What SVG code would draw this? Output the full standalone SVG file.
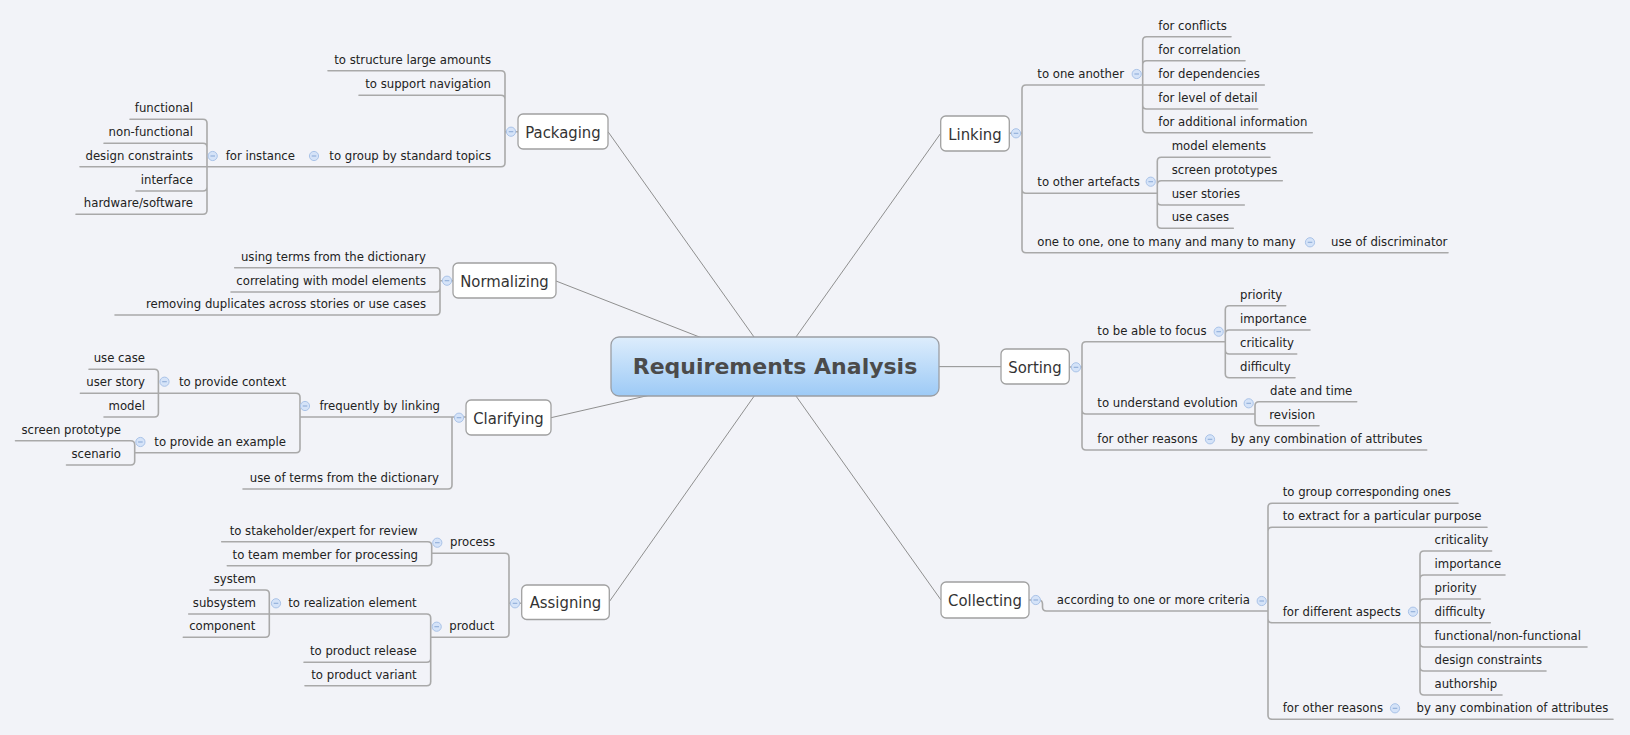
<svg xmlns="http://www.w3.org/2000/svg" xmlns:xlink="http://www.w3.org/1999/xlink" width="1630" height="735" viewBox="0 0 1630 735">
<style>
.c{stroke:#8f8f8f;stroke-width:1;fill:none}
.u{stroke:#a9a9a9;stroke-width:1.6;fill:none;stroke-linecap:round}
.t{font-family:"DejaVu Sans Condensed","Liberation Sans",sans-serif;font-size:13px;fill:#222}
.e{text-anchor:end}
.box{fill:#fff;stroke:#a0a0a0;stroke-width:1.3}
.m{font-family:"DejaVu Sans Condensed","Liberation Sans",sans-serif;font-size:16.5px;fill:#333;text-anchor:middle}
.r{font-family:"DejaVu Sans","Liberation Sans",sans-serif;font-weight:bold;font-size:22px;fill:#4b4b4b;text-anchor:middle}
</style>
<defs>
<linearGradient id="rg" x1="0" y1="0" x2="0" y2="1">
<stop offset="0" stop-color="#ddedfc"/>
<stop offset="1" stop-color="#9dcaf6"/>
</linearGradient>
<g id="ic"><circle cx="0" cy="0" r="4.6" fill="#d5e3f8" stroke="#aac3e8" stroke-width="1"/><line x1="-2.3" y1="0" x2="2.3" y2="0" stroke="#8fadd9" stroke-width="1.1"/></g>
</defs>
<rect width="1630" height="735" fill="#f2f3f8"/>

<g id="connectors">
<g id="central-links" class="c">
<path d="M775 366.5L608 131.7"/>
<path d="M775 366.5L556 281"/>
<path d="M775 366.5L551 417.7"/>
<path d="M775 366.5L609.3 601.7"/>
<path d="M775 366.5L940.7 133.3"/>
<path d="M775 366.5L1001 366.7"/>
<path d="M775 366.5L941 600"/>
</g>
<g id="branch-lines" class="u">
<path d="M518 131.7H505M505 131.7V74.7Q505 70.7 501 70.7H328M505 131.7V99.3Q505 95.3 501 95.3H359M505 131.7V162.7Q505 166.7 501 166.7H207M207 166.7V123.3Q207 119.3 203 119.3H130M207 166.7V147.3Q207 143.3 203 143.3H104M207 166.7H80M207 166.7V187Q207 191 203 191H136M207 166.7V210.3Q207 214.3 203 214.3H76"/>
<path d="M453 280.7H440M440 280.7V271.7Q440 267.7 436 267.7H234.7M440 280.7V288Q440 292 436 292H231M440 280.7V311Q440 315 436 315H115"/>
<path d="M466 417H452M452 417V485Q452 489 448 489H243M452 417H300M300 417V397.3Q300 393.3 296 393.3H158.4M300 417V448.7Q300 452.7 296 452.7H134.7M158.4 393.3V373.3Q158.4 369.3 154.4 369.3H89M158.4 393.3H80.4M158.4 393.3V413Q158.4 417 154.4 417H104M134.7 452.7V444.7Q134.7 440.7 130.7 440.7H15.5M134.7 452.7V461Q134.7 465 130.7 465H66.5"/>
<path d="M521.7 603.3H509M509 603.3V557.3Q509 553.3 505 553.3H431.7M509 603.3V633.3Q509 637.3 505 637.3H430.7M431.7 553.3V545.7Q431.7 541.7 427.7 541.7H221.7M431.7 553.3V561.7Q431.7 565.7 427.7 565.7H227.3M430.7 637.3V618Q430.7 614 426.7 614H269.3M430.7 637.3V658.3Q430.7 662.3 426.7 662.3H304M430.7 637.3V681.7Q430.7 685.7 426.7 685.7H305M269.3 614V594Q269.3 590 265.3 590H210M269.3 614H188.7M269.3 614V633.3Q269.3 637.3 265.3 637.3H183.3"/>
<path d="M1009.3 133.3H1022M1022 133.3V89Q1022 85 1026 85H1142.7M1022 133.3V189.3Q1022 193.3 1026 193.3H1157.3M1022 133.3V248.7Q1022 252.7 1026 252.7H1448M1142.7 85V40.7Q1142.7 36.7 1146.7 36.7H1231M1142.7 85V64.7Q1142.7 60.7 1146.7 60.7H1245M1142.7 85H1264.3M1142.7 85V105Q1142.7 109 1146.7 109H1257.7M1142.7 85V128.7Q1142.7 132.7 1146.7 132.7H1312.3M1157.3 193.3V161.3Q1157.3 157.3 1161.3 157.3H1270M1157.3 193.3V184.7Q1157.3 180.7 1161.3 180.7H1282.3M1157.3 193.3V201Q1157.3 205 1161.3 205H1244.3M1157.3 193.3V224.3Q1157.3 228.3 1161.3 228.3H1233.3"/>
<path d="M1069.3 367H1082M1082 367V345.7Q1082 341.7 1086 341.7H1225.3M1082 367V410Q1082 414 1086 414H1255M1082 367V446Q1082 450 1086 450H1426.7M1225.3 341.7V309.7Q1225.3 305.7 1229.3 305.7H1285.7M1225.3 341.7V334Q1225.3 330 1229.3 330H1310M1225.3 341.7V350Q1225.3 354 1229.3 354H1296.7M1225.3 341.7V373.7Q1225.3 377.7 1229.3 377.7H1295M1255 414V405.7Q1255 401.7 1259 401.7H1356.7M1255 414V421.7Q1255 425.7 1259 425.7H1319"/>
<path d="M1029 600H1038.5Q1042.5 600 1042.5 604V607Q1042.5 611 1046.5 611H1268M1268 611V507.3Q1268 503.3 1272 503.3H1458M1268 611V531.3Q1268 527.3 1272 527.3H1487M1268 611V618.7Q1268 622.7 1272 622.7H1420M1268 611V715.3Q1268 719.3 1272 719.3H1613M1420 622.7V555Q1420 551 1424 551H1491.6M1420 622.7V579Q1420 575 1424 575H1505M1420 622.7V603Q1420 599 1424 599H1480.4M1420 622.7H1490.3M1420 622.7V643Q1420 647 1424 647H1587M1420 622.7V667Q1420 671 1424 671H1546M1420 622.7V691Q1420 695 1424 695H1502"/>
</g>
</g>

<g id="root"><rect x="611" y="337" width="328" height="59" rx="8" fill="url(#rg)" stroke="#9a9ea4" stroke-width="1.3"/><text class="r" x="775" y="374">Requirements Analysis</text></g>

<g id="packaging"><rect class="box" x="518" y="114" width="90" height="35" rx="5"/><text class="m" x="563" y="137.5">Packaging</text><use xlink:href="#ic" x="511" y="131.7"/></g>
<g id="p-structure"><text class="t e" x="491" y="63.7">to structure large amounts</text></g>
<g id="p-navigation"><text class="t e" x="491" y="88.3">to support navigation</text></g>
<g id="p-group"><text class="t e" x="491" y="159.7">to group by standard topics</text><use xlink:href="#ic" x="314" y="156"/></g>
<g id="p-instance"><text class="t e" x="295" y="159.7">for instance</text><use xlink:href="#ic" x="212.7" y="156"/></g>
<g id="p-functional"><text class="t e" x="193" y="112.3">functional</text></g>
<g id="p-nonfunctional"><text class="t e" x="193" y="136.3">non-functional</text></g>
<g id="p-design"><text class="t e" x="193" y="159.7">design constraints</text></g>
<g id="p-interface"><text class="t e" x="193" y="184">interface</text></g>
<g id="p-hwsw"><text class="t e" x="193" y="207.3">hardware/software</text></g>

<g id="normalizing"><rect class="box" x="453" y="263" width="103" height="35" rx="5"/><text class="m" x="504.5" y="286.5">Normalizing</text><use xlink:href="#ic" x="447" y="280.7"/></g>
<g id="n-terms"><text class="t e" x="426" y="260.7">using terms from the dictionary</text></g>
<g id="n-correlating"><text class="t e" x="426" y="285">correlating with model elements</text></g>
<g id="n-removing"><text class="t e" x="426" y="308">removing duplicates across stories or use cases</text></g>

<g id="clarifying"><rect class="box" x="466" y="400" width="85" height="35" rx="5"/><text class="m" x="508.5" y="423.5">Clarifying</text><use xlink:href="#ic" x="459" y="417.7"/></g>
<g id="c-linking"><text class="t e" x="440" y="410">frequently by linking</text><use xlink:href="#ic" x="305" y="406"/></g>
<g id="c-terms"><text class="t e" x="439" y="482">use of terms from the dictionary</text></g>
<g id="c-context"><text class="t e" x="286" y="386.3">to provide context</text><use xlink:href="#ic" x="164.5" y="381.7"/></g>
<g id="c-example"><text class="t e" x="286" y="445.7">to provide an example</text><use xlink:href="#ic" x="140.4" y="442"/></g>
<g id="c-usecase"><text class="t e" x="145" y="362.3">use case</text></g>
<g id="c-userstory"><text class="t e" x="145" y="386.3">user story</text></g>
<g id="c-model"><text class="t e" x="145" y="410">model</text></g>
<g id="c-screen"><text class="t e" x="121" y="433.7">screen prototype</text></g>
<g id="c-scenario"><text class="t e" x="121" y="458">scenario</text></g>

<g id="assigning"><rect class="box" x="521.7" y="585" width="87.6" height="34.5" rx="5"/><text class="m" x="565.5" y="608.3">Assigning</text><use xlink:href="#ic" x="515" y="603.3"/></g>
<g id="a-process"><text class="t e" x="495" y="546.3">process</text><use xlink:href="#ic" x="437.3" y="542.7"/></g>
<g id="a-product"><text class="t e" x="494.3" y="630.3">product</text><use xlink:href="#ic" x="436.7" y="626.7"/></g>
<g id="a-stakeholder"><text class="t e" x="417.7" y="534.7">to stakeholder/expert for review</text></g>
<g id="a-team"><text class="t e" x="418" y="558.7">to team member for processing</text></g>
<g id="a-realization"><text class="t e" x="416.7" y="607">to realization element</text><use xlink:href="#ic" x="276" y="603.3"/></g>
<g id="a-release"><text class="t e" x="416.7" y="655.3">to product release</text></g>
<g id="a-variant"><text class="t e" x="416.7" y="678.7">to product variant</text></g>
<g id="a-system"><text class="t e" x="256" y="583">system</text></g>
<g id="a-subsystem"><text class="t e" x="256" y="607">subsystem</text></g>
<g id="a-component"><text class="t e" x="255.3" y="630.3">component</text></g>

<g id="linking"><rect class="box" x="940.7" y="116" width="68.6" height="35" rx="5"/><text class="m" x="975" y="139.5">Linking</text><use xlink:href="#ic" x="1016" y="133.3"/></g>
<g id="l-another"><text class="t" x="1037.3" y="78">to one another</text><use xlink:href="#ic" x="1136.7" y="74"/></g>
<g id="l-conflicts"><text class="t" x="1158.3" y="29.7">for conflicts</text></g>
<g id="l-correlation"><text class="t" x="1158.3" y="53.7">for correlation</text></g>
<g id="l-dependencies"><text class="t" x="1158.3" y="78">for dependencies</text></g>
<g id="l-detail"><text class="t" x="1158.3" y="102">for level of detail</text></g>
<g id="l-additional"><text class="t" x="1158.3" y="125.7">for additional information</text></g>
<g id="l-artefacts"><text class="t" x="1037.3" y="186.3">to other artefacts</text><use xlink:href="#ic" x="1150.7" y="181.7"/></g>
<g id="l-model"><text class="t" x="1171.7" y="150.3">model elements</text></g>
<g id="l-screen"><text class="t" x="1171.7" y="173.7">screen prototypes</text></g>
<g id="l-stories"><text class="t" x="1171.7" y="198">user stories</text></g>
<g id="l-usecases"><text class="t" x="1171.7" y="221.3">use cases</text></g>
<g id="l-cardinality"><text class="t" x="1037.3" y="245.7">one to one, one to many and many to many</text><use xlink:href="#ic" x="1310" y="242.3"/></g>
<g id="l-discriminator"><text class="t" x="1331" y="245.7">use of discriminator</text></g>

<g id="sorting"><rect class="box" x="1001" y="349" width="68.3" height="35" rx="5"/><text class="m" x="1035" y="372.5">Sorting</text><use xlink:href="#ic" x="1076" y="367.3"/></g>
<g id="s-focus"><text class="t" x="1097.3" y="334.7">to be able to focus</text><use xlink:href="#ic" x="1218.7" y="331.7"/></g>
<g id="s-priority"><text class="t" x="1240" y="298.7">priority</text></g>
<g id="s-importance"><text class="t" x="1240" y="323">importance</text></g>
<g id="s-criticality"><text class="t" x="1240" y="347">criticality</text></g>
<g id="s-difficulty"><text class="t" x="1240" y="370.7">difficulty</text></g>
<g id="s-evolution"><text class="t" x="1097.3" y="407">to understand evolution</text><use xlink:href="#ic" x="1248.7" y="403.3"/></g>
<g id="s-datetime"><text class="t" x="1270" y="394.7">date and time</text></g>
<g id="s-revision"><text class="t" x="1269.3" y="418.7">revision</text></g>
<g id="s-other"><text class="t" x="1097.3" y="443">for other reasons</text><use xlink:href="#ic" x="1210" y="439.3"/></g>
<g id="s-combination"><text class="t" x="1230.7" y="443">by any combination of attributes</text></g>

<g id="collecting"><rect class="box" x="941" y="582" width="88" height="36" rx="5"/><text class="m" x="985" y="605.5">Collecting</text><use xlink:href="#ic" x="1035.8" y="600"/></g>
<g id="k-criteria"><text class="t" x="1056.8" y="604">according to one or more criteria</text><use xlink:href="#ic" x="1261.7" y="601"/></g>
<g id="k-group"><text class="t" x="1282.7" y="496.3">to group corresponding ones</text></g>
<g id="k-extract"><text class="t" x="1282.7" y="520.3">to extract for a particular purpose</text></g>
<g id="k-aspects"><text class="t" x="1282.7" y="615.7">for different aspects</text><use xlink:href="#ic" x="1413" y="611.7"/></g>
<g id="k-criticality"><text class="t" x="1434.5" y="544">criticality</text></g>
<g id="k-importance"><text class="t" x="1434.5" y="568">importance</text></g>
<g id="k-priority"><text class="t" x="1434.5" y="592">priority</text></g>
<g id="k-difficulty"><text class="t" x="1434.5" y="615.7">difficulty</text></g>
<g id="k-functional"><text class="t" x="1434.5" y="640">functional/non-functional</text></g>
<g id="k-design"><text class="t" x="1434.5" y="664">design constraints</text></g>
<g id="k-authorship"><text class="t" x="1434.5" y="688">authorship</text></g>
<g id="k-other"><text class="t" x="1282.7" y="712.3">for other reasons</text><use xlink:href="#ic" x="1395" y="708.3"/></g>
<g id="k-combination"><text class="t" x="1416.6" y="712.3">by any combination of attributes</text></g>
</svg>
